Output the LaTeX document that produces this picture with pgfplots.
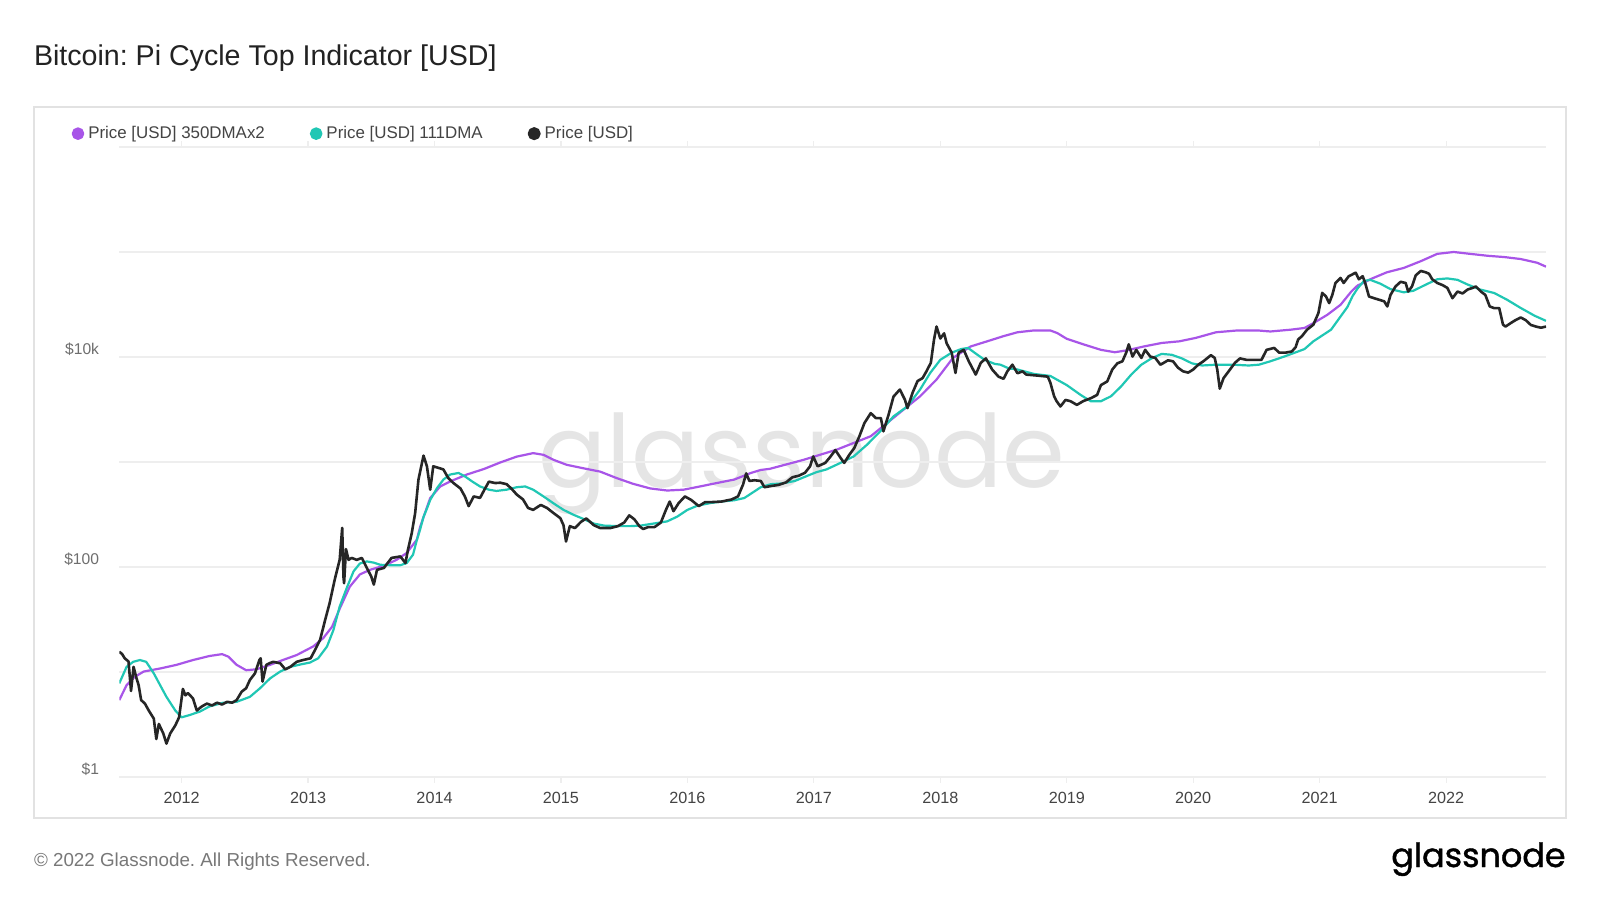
\documentclass[border=0pt]{standalone}
\usepackage{pgfplots}
\pgfplotsset{compat=1.18}
\usepackage{pgfplotstable}
\usepackage{fontspec}
\setmainfont{Liberation Sans}
\newfontfamily\logofont{Poppins}
\newfontfamily\logofontb[FakeBold=1.2]{Poppins}
\definecolor{purp}{RGB}{168,85,232}
\definecolor{tealc}{RGB}{32,199,180}
\definecolor{blk}{RGB}{38,38,38}
\definecolor{gridc}{RGB}{238,238,238}
\definecolor{framec}{RGB}{226,226,226}
\definecolor{wm}{RGB}{229,229,229}
\definecolor{titlec}{RGB}{34,34,34}
\definecolor{labc}{RGB}{68,68,68}
\definecolor{ylabc}{RGB}{110,110,110}
\definecolor{footc}{RGB}{120,120,120}
\frenchspacing

\pgfplotstableread{
x y
2011.507 5.4
2011.565 7.5
2011.63 9.0
2011.70 10.1
2011.83 10.8
2011.96 11.7
2012.09 13.0
2012.22 14.2
2012.32 14.8
2012.37 14.0
2012.435 11.7
2012.51 10.4
2012.59 10.6
2012.70 11.7
2012.80 13.0
2012.91 14.5
2013.04 17.5
2013.12 21
2013.19 27
2013.25 40
2013.33 65
2013.41 85
2013.49 94
2013.60 103
2013.70 117
2013.78 136
2013.86 182
2013.886 240
2013.94 370
2013.966 454
2014.045 585
2014.124 653
2014.256 760
2014.39 857
2014.52 990
2014.65 1125
2014.78 1215
2014.862 1170
2014.94 1050
2015.046 940
2015.18 870
2015.31 810
2015.44 703
2015.57 620
2015.706 560
2015.84 535
2015.97 545
2016.10 585
2016.23 630
2016.37 680
2016.50 785
2016.58 840
2016.65 860
2016.92 1050
2017.18 1310
2017.45 1760
2017.71 3160
2017.84 4220
2017.97 6100
2018.10 9800
2018.24 12600
2018.37 14100
2018.50 15800
2018.61 17200
2018.74 17900
2018.87 17900
2018.925 16900
2019.00 14900
2019.14 13100
2019.27 11700
2019.38 11100
2019.48 11600
2019.61 12600
2019.75 13600
2019.89 14100
2020.02 15200
2020.18 17200
2020.35 17900
2020.51 17900
2020.61 17500
2020.77 18200
2020.88 18900
2020.95 21000
2021.06 25200
2021.165 31400
2021.25 42000
2021.30 48000
2021.35 51000
2021.40 55000
2021.53 64000
2021.665 70500
2021.80 81800
2021.93 96000
2022.06 100000
2022.19 96000
2022.33 92000
2022.46 89500
2022.59 85700
2022.72 79000
2022.79 72500
}\dmaA

\pgfplotstableread{
x y
2011.507 7.8
2011.565 11.2
2011.617 12.5
2011.67 13.0
2011.72 12.5
2011.78 9.7
2011.83 7.5
2011.88 5.8
2011.95 4.3
2012.00 3.7
2012.066 3.9
2012.145 4.2
2012.22 4.7
2012.33 5.1
2012.435 5.2
2012.54 5.8
2012.62 7.0
2012.70 8.7
2012.78 10.1
2012.86 11.2
2012.94 11.8
2013.015 12.3
2013.08 13.5
2013.15 17.5
2013.20 25
2013.25 42
2013.31 65
2013.36 91
2013.41 108
2013.465 113
2013.52 110
2013.57 105
2013.65 104
2013.73 104
2013.78 109
2013.83 131
2013.86 180
2013.885 225
2013.913 300
2013.94 360
2013.966 435
2014.02 565
2014.07 680
2014.124 760
2014.19 786
2014.24 730
2014.30 650
2014.36 585
2014.43 545
2014.49 530
2014.57 545
2014.65 575
2014.717 585
2014.78 545
2014.862 470
2014.94 405
2015.02 350
2015.10 314
2015.18 286
2015.26 259
2015.34 248
2015.45 245
2015.55 245
2015.63 248
2015.73 259
2015.84 272
2015.92 302
2016.00 350
2016.08 384
2016.19 408
2016.29 423
2016.37 432
2016.45 454
2016.53 525
2016.58 575
2016.66 615
2016.75 625
2016.85 660
2016.95 740
2017.02 800
2017.10 850
2017.21 980
2017.315 1130
2017.42 1460
2017.525 1960
2017.63 2720
2017.74 3390
2017.84 4900
2017.92 7050
2018.00 9400
2018.09 11000
2018.165 11900
2018.22 12200
2018.27 11000
2018.35 9400
2018.43 8600
2018.475 8450
2018.54 7800
2018.61 7600
2018.74 6900
2018.87 6600
2019.00 5400
2019.11 4350
2019.19 3790
2019.27 3790
2019.35 4230
2019.43 5250
2019.51 6800
2019.59 8450
2019.67 9700
2019.75 10700
2019.83 10500
2019.91 9700
2019.99 8700
2020.07 8300
2020.18 8450
2020.31 8450
2020.44 8300
2020.52 8450
2020.61 9100
2020.72 10100
2020.83 11300
2020.88 11900
2020.95 14100
2021.09 18200
2021.22 30000
2021.26 38000
2021.30 45000
2021.35 53000
2021.40 54300
2021.48 49900
2021.56 44300
2021.665 41300
2021.74 42700
2021.85 49600
2021.93 55000
2022.01 56000
2022.09 54300
2022.17 49000
2022.27 43900
2022.38 40700
2022.48 35200
2022.59 29300
2022.70 24700
2022.79 22100
}\dmaB

\pgfplotstableread{
x y
2011.507 15.6
2011.53 14.8
2011.55 13.5
2011.58 12.6
2011.60 6.6
2011.62 11.2
2011.64 9.0
2011.66 7.5
2011.68 5.4
2011.71 5.0
2011.74 4.3
2011.78 3.6
2011.80 2.3
2011.82 3.2
2011.855 2.6
2011.88 2.08
2011.91 2.6
2011.95 3.1
2011.98 3.7
2012.01 6.9
2012.03 6.0
2012.05 6.3
2012.09 5.6
2012.12 4.3
2012.16 4.7
2012.20 5.0
2012.24 4.8
2012.28 5.1
2012.32 4.9
2012.36 5.2
2012.40 5.1
2012.435 5.4
2012.475 6.5
2012.51 7.0
2012.54 8.4
2012.58 9.7
2012.615 13.0
2012.625 13.5
2012.64 8.1
2012.67 11.7
2012.70 12.2
2012.725 12.5
2012.78 12.1
2012.82 10.6
2012.86 11.2
2012.91 12.5
2012.96 13.0
2013.02 13.5
2013.055 16.2
2013.095 20.2
2013.135 31.3
2013.17 45
2013.21 75
2013.25 117
2013.27 236
2013.28 80
2013.285 70
2013.30 148
2013.32 117
2013.345 122
2013.385 117
2013.425 122
2013.465 98
2013.50 81
2013.52 68
2013.545 94
2013.60 98
2013.66 122
2013.73 126
2013.77 109
2013.79 146
2013.82 210
2013.847 327
2013.873 680
2013.913 1150
2013.94 910
2013.966 545
2013.99 910
2014.03 880
2014.07 850
2014.11 700
2014.15 630
2014.205 560
2014.24 470
2014.27 380
2014.31 470
2014.36 455
2014.40 560
2014.43 650
2014.48 630
2014.52 635
2014.57 615
2014.61 555
2014.65 490
2014.70 440
2014.74 365
2014.78 350
2014.84 390
2014.89 365
2014.94 327
2014.995 292
2015.02 250
2015.04 175
2015.07 245
2015.11 235
2015.16 270
2015.20 290
2015.26 250
2015.31 235
2015.39 235
2015.45 245
2015.50 265
2015.54 310
2015.58 285
2015.62 245
2015.65 230
2015.69 240
2015.74 240
2015.79 265
2015.83 350
2015.86 420
2015.89 340
2015.93 405
2015.98 470
2016.03 435
2016.09 380
2016.14 415
2016.19 415
2016.27 420
2016.35 440
2016.40 470
2016.44 610
2016.465 780
2016.49 660
2016.53 670
2016.58 660
2016.61 575
2016.66 590
2016.72 605
2016.78 640
2016.83 715
2016.88 740
2016.93 790
2016.97 910
2016.995 1130
2017.03 910
2017.09 980
2017.13 1120
2017.17 1300
2017.21 1100
2017.24 980
2017.28 1170
2017.32 1360
2017.36 1760
2017.40 2350
2017.45 2920
2017.49 2620
2017.53 2620
2017.55 1960
2017.59 2800
2017.63 4200
2017.68 4900
2017.72 3920
2017.74 3260
2017.78 4550
2017.82 5900
2017.86 6300
2017.89 7300
2017.925 8800
2017.95 14600
2017.97 19500
2018.00 15000
2018.03 16800
2018.05 13500
2018.09 11000
2018.12 7050
2018.145 11000
2018.185 11700
2018.225 9100
2018.28 6800
2018.32 8800
2018.36 9700
2018.41 7600
2018.46 6500
2018.50 6200
2018.53 7300
2018.57 8450
2018.61 7000
2018.65 7300
2018.68 6800
2018.77 6650
2018.85 6500
2018.87 5700
2018.90 4230
2018.92 3790
2018.95 3380
2018.99 3900
2019.03 3790
2019.08 3500
2019.13 3800
2019.19 4050
2019.24 4350
2019.27 5400
2019.32 5850
2019.36 7600
2019.40 8700
2019.44 9100
2019.47 11000
2019.49 13200
2019.52 10100
2019.55 11700
2019.59 9800
2019.62 11700
2019.66 10100
2019.70 9800
2019.74 8450
2019.76 8700
2019.80 9300
2019.84 9100
2019.88 7900
2019.92 7300
2019.96 7100
2020.00 7600
2020.04 8450
2020.08 9100
2020.14 10400
2020.17 9800
2020.19 7600
2020.21 5000
2020.24 6300
2020.28 7300
2020.33 8800
2020.37 9700
2020.42 9400
2020.49 9400
2020.54 9400
2020.58 11700
2020.64 12200
2020.68 11000
2020.73 11000
2020.78 11300
2020.81 12400
2020.83 14700
2020.86 15800
2020.90 18200
2020.95 20300
2020.99 26200
2021.02 40800
2021.05 37700
2021.075 32600
2021.10 39000
2021.125 50700
2021.165 56600
2021.19 50700
2021.23 58800
2021.285 63500
2021.31 55000
2021.34 58800
2021.36 50700
2021.39 37700
2021.43 36300
2021.47 35100
2021.51 33900
2021.535 30300
2021.56 39000
2021.60 47000
2021.64 52000
2021.68 50700
2021.70 42000
2021.73 47000
2021.76 60000
2021.80 66000
2021.84 64000
2021.865 62000
2021.89 55000
2021.93 50700
2021.97 48500
2022.01 45500
2022.05 36300
2022.09 42000
2022.13 40300
2022.17 43900
2022.21 45500
2022.235 47000
2022.275 42000
2022.31 39000
2022.345 30300
2022.38 29200
2022.42 29200
2022.45 20300
2022.47 19500
2022.51 21000
2022.55 22500
2022.59 23800
2022.63 22400
2022.67 20200
2022.71 19500
2022.75 19000
2022.79 19500
}\price

\begin{document}
\begin{tikzpicture}
\fill[white] (0pt,0pt) rectangle (800pt,450pt);
\draw[framec, line width=0.8pt] (17pt,41pt) rectangle (783pt,396.5pt);
\node[anchor=base west, inner sep=0pt, text=titlec, font=\fontsize{14.3}{17}\selectfont] at (16.8pt,417pt) {Bitcoin: Pi Cycle Top Indicator [USD]};
\node[anchor=base west, inner sep=0pt, text=wm, font=\logofont\fontsize{50.5}{60}\selectfont] at (269pt,206pt) {glassnode};
\begin{axis}[
  at={(59.7pt,61.5pt)}, anchor=south west,
  scale only axis, width=713.3pt, height=315pt,
  xmin=2011.508, xmax=2022.79,
  ymode=log, ymin=1, ymax=1000000,
  axis line style={draw=none},
  xtick={2012,2013,2014,2015,2016,2017,2018,2019,2020,2021,2022},
  xticklabels={2012,2013,2014,2015,2016,2017,2018,2019,2020,2021,2022},
  ytick={1,10,100,1000,10000,100000,1000000},
  yticklabels={\$1,,\$100,,\$10k,,},
  ymajorgrids, major grid style={draw=gridc, line width=0.6pt},
  tick align=outside,
  major tick length=3pt,
  xtick style={draw=gridc, line width=0.6pt},
  ytick style={draw=none},
  xticklabel style={font=\fontsize{8.1}{9.6}\selectfont, text=labc, inner sep=0pt, anchor=north, yshift=-4.5pt},
  yticklabel style={font=\fontsize{7.8}{9}\selectfont, text=ylabc, inner sep=0pt, anchor=east, xshift=-7pt, yshift=4pt},
  legend columns=3,
  legend style={at={(axis description cs:-0.0337,1.0212)}, anchor=west, draw=none, fill=none, inner sep=0pt,
    font=\fontsize{8.45}{10}\selectfont, text=labc,
    /tikz/every even column/.append style={column sep=20.5pt}},
  legend image code/.code={\fill[#1] (2.6pt,0pt) circle (2.6pt);},
  every axis plot/.append style={line join=round},
]
\addplot[color=purp, line width=1.1pt] table {\dmaA};
\addlegendentry{Price [USD] 350DMAx2}
\addplot[color=tealc, line width=1.1pt] table {\dmaB};
\addlegendentry{Price [USD] 111DMA}
\addplot[color=blk, line width=1.3pt] table {\price};
\addlegendentry{Price [USD]}
\end{axis}
\node[anchor=base west, inner sep=0pt, text=footc, font=\fontsize{9.4}{11}\selectfont] at (16.8pt,17pt) {\textcopyright{} 2022 Glassnode. All Rights Reserved.};
\node[anchor=base east, inner sep=0pt, text=black, font=\logofontb\fontsize{16.7}{20}\selectfont] at (783pt,16.5pt) {glassnode};
\end{tikzpicture}
\end{document}
